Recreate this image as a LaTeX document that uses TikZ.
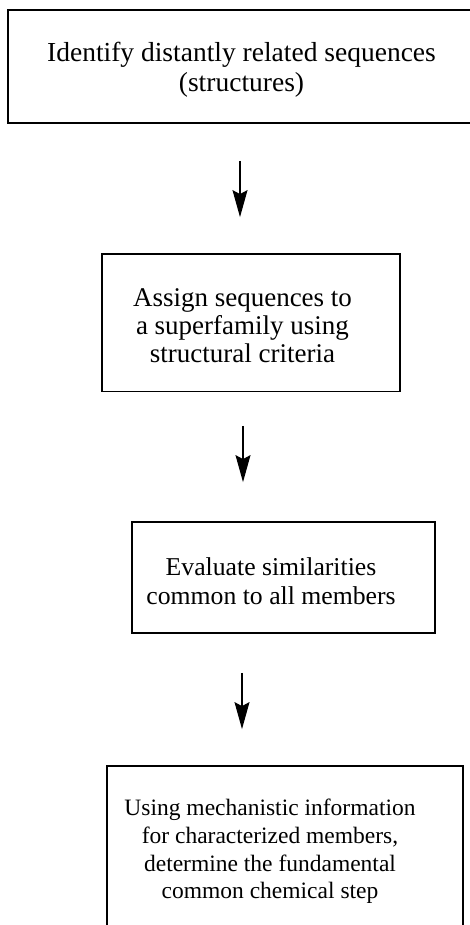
\documentclass[tikz,border=0pt]{standalone}
\usepackage{fontspec}
\setmainfont{Liberation Serif}
\usetikzlibrary{positioning}
\usetikzlibrary{arrows.meta}

\begin{document}
\begin{tikzpicture}[x=1pt,y=-1pt,
    box/.style={draw, rectangle, line width=1.8pt, inner sep=0pt},
    txt/.style={align=center, inner sep=0pt},
    flow/.style={-{Stealth[length=27pt,width=15pt,inset=4pt]}, line width=1.1pt}]
\useasboundingbox (0,0) rectangle (470,925);

\node[box, minimum width=472pt, minimum height=113pt] (box1) at (244,66.5) {};
\node[box, minimum width=298pt, minimum height=137.5pt] (box2) at (251,322.75) {};
\node[box, minimum width=303pt, minimum height=111pt] (box3) at (283.5,577.5) {};
\node[box, minimum width=356pt, minimum height=179pt] (box4) at (285,855.5) {};

\node[txt, font=\fontsize{27.5}{30}\selectfont] (text1) at (241.5,69.5) {Identify distantly related sequences\\(structures)};
\node[txt, font=\fontsize{27}{28}\selectfont] (text2) at (242.5,325.5) {Assign sequences to\\a superfamily using\\structural criteria};
\node[txt, font=\fontsize{25.7}{29}\selectfont] (text3) at (271,581.5) {Evaluate similarities\\common to all members};
\node[txt, font=\fontsize{23.5}{27.7}\selectfont] (text4) at (270,851.5) {Using mechanistic information\\for characterized members,\\determine the fundamental\\common chemical step};

\coordinate (a1) at (240,0);
\coordinate (a2) at (243,0);
\coordinate (a3) at (242,0);

\draw[flow, shorten <=37pt, shorten >=36pt] (box1.south -| a1) -- (box2.north -| a1);
\draw[flow, shorten <=33.5pt, shorten >=39pt] (box2.south -| a2) -- (box3.north -| a2);
\draw[flow, shorten <=39pt, shorten >=36pt] (box3.south -| a3) -- (box4.north -| a3);
\end{tikzpicture}
\end{document}
